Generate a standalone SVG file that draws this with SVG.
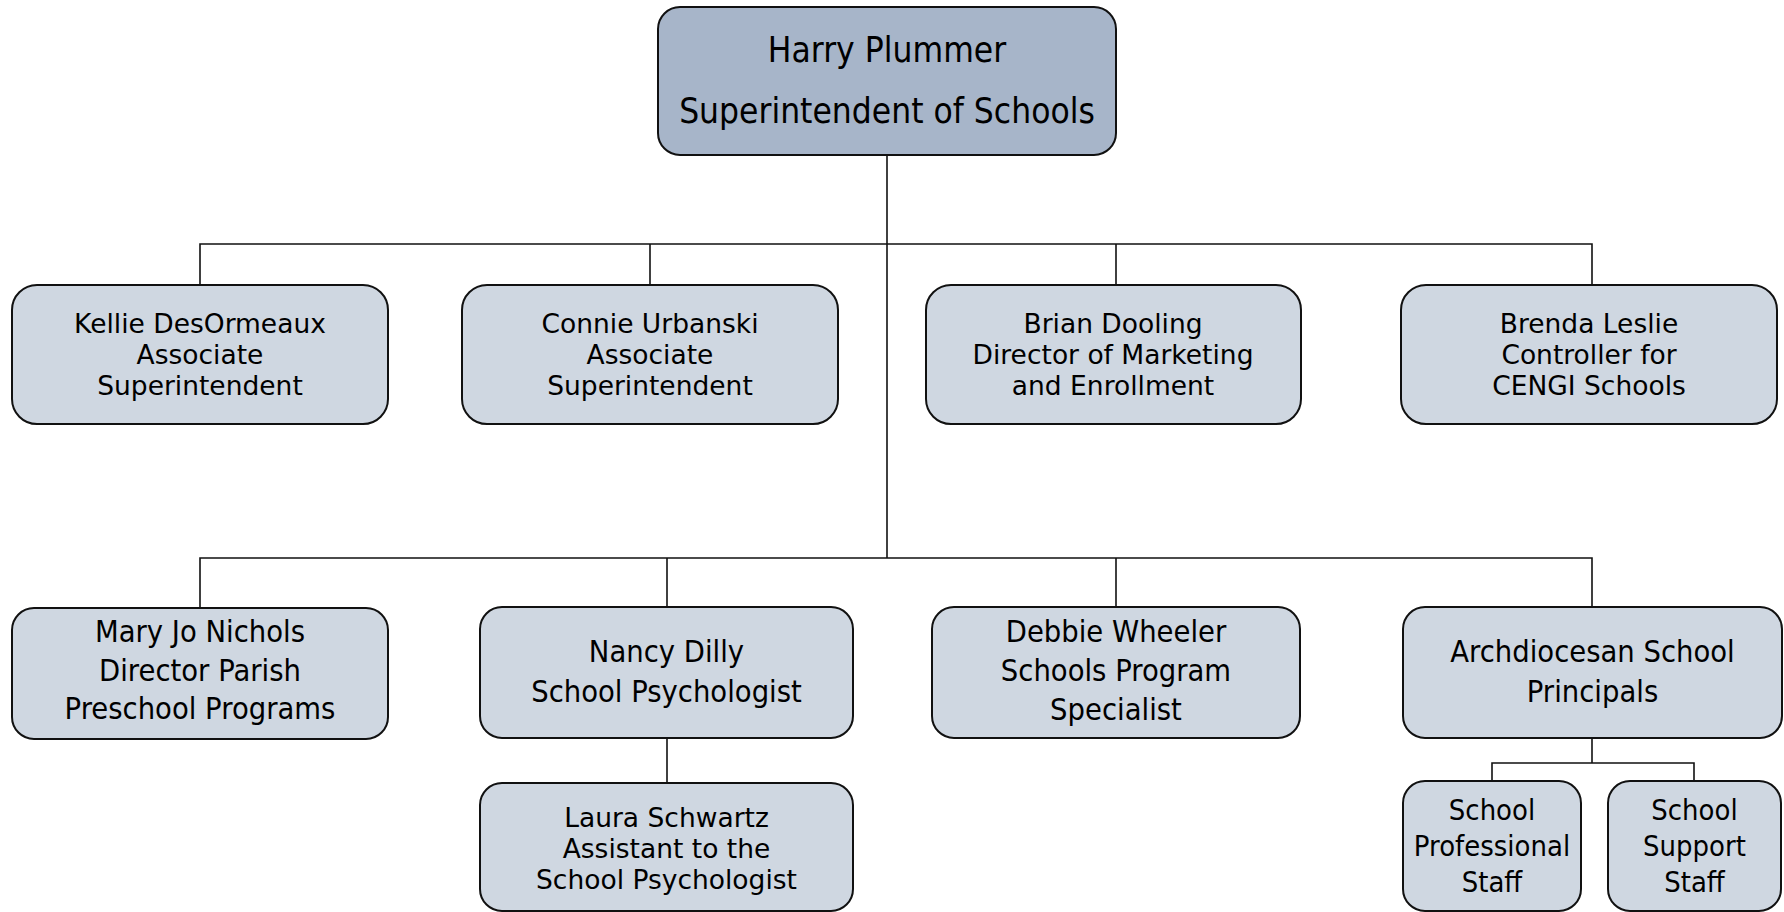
<svg xmlns="http://www.w3.org/2000/svg" width="1784" height="912" viewBox="0 0 1784 912">
<style>
.box{fill:#cfd7e1;stroke:#111;stroke-width:2}
.top{fill:#a7b5c9;stroke:#111;stroke-width:2}
.conn{fill:none;stroke:#111;stroke-width:1.6}
text{font-family:"DejaVu Sans","Liberation Sans",sans-serif;fill:#000;text-anchor:middle}
.t27{font-size:27.5px}
.t26{font-size:26px}
.tt{font-size:26.5px}
.t31{font-size:31.5px}
</style>
<rect width="1784" height="912" fill="#fff"/>
<g id="connectors">
<path class="conn" d="M887 155V558"/>
<path class="conn" d="M200 285V244H1592V285"/>
<path class="conn" d="M650 244V285"/>
<path class="conn" d="M1116 244V285"/>
<path class="conn" d="M200 608V558H1592V607"/>
<path class="conn" d="M667 558V607"/>
<path class="conn" d="M1116 558V607"/>
<path class="conn" d="M667 738V783"/>
<path class="conn" d="M1592 738V763"/>
<path class="conn" d="M1492 781V763H1694V781"/>
</g>
<g id="harry">
<rect class="top" x="658" y="7" width="458" height="148" rx="22"/>
<text class="t31" transform="scale(1,1.1)"><tspan x="887" y="56.36">Harry Plummer</tspan><tspan x="887" y="111.45">Superintendent of Schools</tspan></text>
</g>
<g id="kellie">
<rect class="box" x="12" y="285" width="376" height="139" rx="25"/>
<text class="tt"><tspan x="200" y="333">Kellie DesOrmeaux</tspan><tspan x="200" y="364">Associate</tspan><tspan x="200" y="395">Superintendent</tspan></text>
</g>
<g id="connie">
<rect class="box" x="462" y="285" width="376" height="139" rx="25"/>
<text class="tt"><tspan x="650" y="333">Connie Urbanski</tspan><tspan x="650" y="364">Associate</tspan><tspan x="650" y="395">Superintendent</tspan></text>
</g>
<g id="brian">
<rect class="box" x="926" y="285" width="375" height="139" rx="25"/>
<text class="tt"><tspan x="1113" y="333">Brian Dooling</tspan><tspan x="1113" y="364">Director of Marketing</tspan><tspan x="1113" y="395">and Enrollment</tspan></text>
</g>
<g id="brenda">
<rect class="box" x="1401" y="285" width="376" height="139" rx="25"/>
<text class="tt"><tspan x="1589" y="333">Brenda Leslie</tspan><tspan x="1589" y="364">Controller for</tspan><tspan x="1589" y="395">CENGI Schools</tspan></text>
</g>
<g id="mary">
<rect class="box" x="12" y="608" width="376" height="131" rx="22"/>
<text class="t27" transform="scale(1,1.1)"><tspan x="200" y="583.64">Mary Jo Nichols</tspan><tspan x="200" y="619.09">Director Parish</tspan><tspan x="200" y="653.64">Preschool Programs</tspan></text>
</g>
<g id="nancy">
<rect class="box" x="480" y="607" width="373" height="131" rx="22"/>
<text class="t27" transform="scale(1,1.1)"><tspan x="666.5" y="601.82">Nancy Dilly</tspan><tspan x="666.5" y="638.18">School Psychologist</tspan></text>
</g>
<g id="laura">
<rect class="box" x="480" y="783" width="373" height="128" rx="22"/>
<text class="tt"><tspan x="666.5" y="827">Laura Schwartz</tspan><tspan x="666.5" y="858">Assistant to the</tspan><tspan x="666.5" y="889">School Psychologist</tspan></text>
</g>
<g id="debbie">
<rect class="box" x="932" y="607" width="368" height="131" rx="22"/>
<text class="t27" transform="scale(1,1.1)"><tspan x="1116" y="583.64">Debbie Wheeler</tspan><tspan x="1116" y="619.09">Schools Program</tspan><tspan x="1116" y="654.55">Specialist</tspan></text>
</g>
<g id="principals">
<rect class="box" x="1403" y="607" width="379" height="131" rx="22"/>
<text class="t27" transform="scale(1,1.1)"><tspan x="1592.5" y="601.82">Archdiocesan School</tspan><tspan x="1592.5" y="638.18">Principals</tspan></text>
</g>
<g id="professional">
<rect class="box" x="1403" y="781" width="178" height="130" rx="22"/>
<text class="t26" transform="scale(1,1.1)"><tspan x="1492" y="745.45">School</tspan><tspan x="1492" y="778.18">Professional</tspan><tspan x="1492" y="810.91">Staff</tspan></text>
</g>
<g id="support">
<rect class="box" x="1608" y="781" width="173" height="130" rx="22"/>
<text class="t26" transform="scale(1,1.1)"><tspan x="1694.5" y="745.45">School</tspan><tspan x="1694.5" y="778.18">Support</tspan><tspan x="1694.5" y="810.91">Staff</tspan></text>
</g>
</svg>
